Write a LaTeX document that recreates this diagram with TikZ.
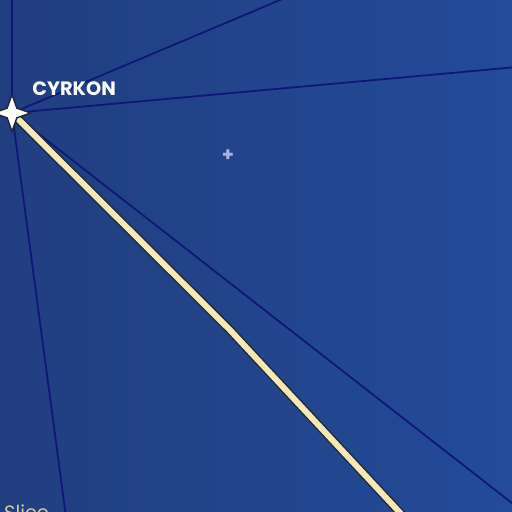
\documentclass[tikz,border=0pt]{standalone}
\usepackage{fontspec}
\setmainfont{Poppins}
\usetikzlibrary{shapes.geometric}
\definecolor{bgleft}{RGB}{33,62,128}
\definecolor{bgright}{RGB}{35,75,153}
\definecolor{lanecol}{RGB}{16,22,120}
\definecolor{routecol}{RGB}{245,232,178}
\definecolor{routeedge}{RGB}{30,40,55}
\definecolor{pluscol}{RGB}{170,178,225}
\begin{document}
\begin{tikzpicture}[
    x=0.02cm,y=-0.02cm,
    lane/.style={draw=lanecol,line width=1pt},
    routeout/.style={draw=routeedge,line width=5pt,line join=round},
    routein/.style={draw=routecol,line width=3.4pt,line join=round},
    system/.style={star,star points=4,star point ratio=2.7,draw=routeedge,fill=white,line width=0.8pt,inner sep=0pt,minimum size=0.74cm},
    sysname/.style={text=white,font=\bfseries\fontsize{11}{12}\selectfont,anchor=base west,inner sep=0pt}
]
    \useasboundingbox (0,0) rectangle (512,512);
    \clip (0,0) rectangle (512,512);
    \shade[left color=bgleft,right color=bgright] (0,0) rectangle (512,512);

    \coordinate (north) at (12,-5);
    \coordinate (nne) at (292,-5);
    \coordinate (east) at (517,67);
    \coordinate (southeast) at (517,507);
    \coordinate (south) at (66,517);
    \coordinate (bend) at (230,330);
    \coordinate (exit) at (404,517);
    \coordinate (cyrkonpos) at (12,113);

    \draw[lane] (cyrkonpos) -- (north);
    \draw[lane] (cyrkonpos) -- (nne);
    \draw[lane] (cyrkonpos) -- (east);
    \draw[lane] (cyrkonpos) -- (southeast);
    \draw[lane] (cyrkonpos) -- (south);

    \draw[routeout] (cyrkonpos) -- (bend) -- (exit);
    \draw[routein] (cyrkonpos) -- (bend) -- (exit);

    \node[system] (cyrkon) at (cyrkonpos) {};
    \node[sysname] (cyrkonlabel) at (32,95) {CYRKON};

    \node[text=pluscol,font=\bfseries\fontsize{11}{12}\selectfont] (centre) at (228,156) {+};

    \node[text=routecol!70!gray,font=\fontsize{11}{12}\selectfont,anchor=base west] (slice) at (-2,519) {Slice};
\end{tikzpicture}
\end{document}
